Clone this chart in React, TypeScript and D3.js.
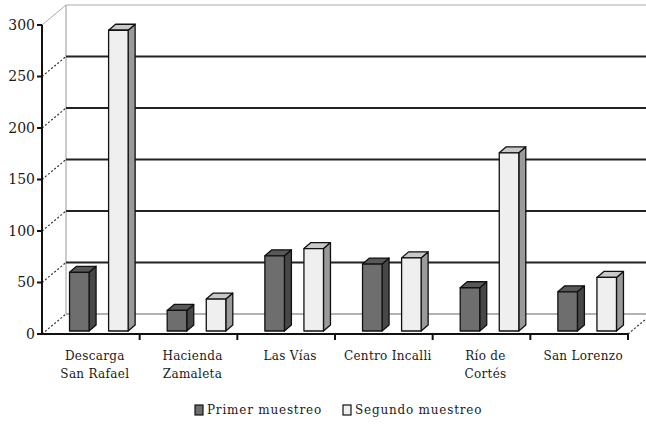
import React from "react";
import * as d3 from "d3";

const categories = [
  ["Descarga", "San Rafael"],
  ["Hacienda", "Zamaleta"],
  ["Las Vías"],
  ["Centro Incalli"],
  ["Río de", "Cortés"],
  ["San Lorenzo"],
];
const primer = [57, 20, 73, 65, 42, 38];
const segundo = [292, 31, 80, 71, 173, 52];
const seriesNames = ["Primer muestreo", "Segundo muestreo"];
const yTicks = [0, 50, 100, 150, 200, 250, 300];

const W = 646;
const H = 429;
const DX = 24;
const DY = -20;
const BDX = 7;
const BDY = -6;

const colors = [
  { front: "#6e6e6e", side: "#474747", top: "#585858" },
  { front: "#efefef", side: "#9a9a9a", top: "#c9c9c9" },
];

export default function App() {
  const y = d3.scaleLinear().domain([0, 300]).range([334, 25]);
  const yBar = d3.scaleLinear().domain([0, 300]).range([331, 22]);
  const keys = categories.map((c) => c.join(" "));
  const x = d3.scaleBand().domain(keys).range([42, 628]).padding(0);
  const bw = x.bandwidth();
  const x0 = 42;
  const x1 = 628;
  const font = "'DejaVu Serif', serif";

  const bars: any[] = [];
  keys.forEach((k, i) => {
    [primer, segundo].forEach((s, j) => {
      const bx = (x(k) as number) + 8 + bw * (0.2 + j * 0.4);
      const w = bw * 0.2;
      const top = yBar(s[i]);
      const base = yBar(0);
      const c = colors[j];
      bars.push(
        <g key={`${i}-${j}`} stroke="#111" strokeWidth={1.3} strokeLinejoin="round">
          <polygon
            points={`${bx + w},${top} ${bx + w + BDX},${top + BDY} ${bx + w + BDX},${base + BDY} ${bx + w},${base}`}
            fill={c.side}
          />
          <polygon
            points={`${bx},${top} ${bx + BDX},${top + BDY} ${bx + w + BDX},${top + BDY} ${bx + w},${top}`}
            fill={c.top}
          />
          <rect x={bx} y={top} width={w} height={base - top} fill={c.front} />
        </g>
      );
    });
  });

  return (
    <svg
      width={W}
      height={H}
      style={{ position: "absolute", left: 0, top: 0, background: "#fff" }}
    >
      <line x1={x0 + DX} y1={y(300) + DY} x2={W} y2={y(300) + DY} stroke="#aaa" strokeWidth={1} />
      <line x1={x0 + DX} y1={y(300) + DY} x2={x0 + DX} y2={y(0) + DY} stroke="#aaa" strokeWidth={1.2} />
      <line x1={x0 + DX} y1={y(0) + DY} x2={W} y2={y(0) + DY} stroke="#999" strokeWidth={1.5} />
      <line x1={x0} y1={y(300)} x2={x0 + DX} y2={y(300) + DY} stroke="#aaa" strokeWidth={1} />
      {yTicks.filter((t) => t > 0 && t < 300).map((t) => (
        <line key={t} x1={x0 + DX} y1={y(t) + DY} x2={W} y2={y(t) + DY} stroke="#222" strokeWidth={2} />
      ))}
      {yTicks.filter((t) => t < 300).map((t) => (
        <line
          key={"d" + t}
          x1={x0}
          y1={y(t)}
          x2={x0 + DX}
          y2={y(t) + DY}
          stroke="#333"
          strokeWidth={1.2}
          strokeDasharray="2,2"
        />
      ))}
      <line x1={x1} y1={y(0)} x2={x1 + DX} y2={y(0) + DY} stroke="#333" strokeWidth={1.2} strokeDasharray="2,2" />
      {bars}
      <line x1={x0} y1={y(300)} x2={x0} y2={y(0)} stroke="#111" strokeWidth={2} />
      <line x1={x0} y1={y(0)} x2={x1} y2={y(0)} stroke="#111" strokeWidth={2} />
      {yTicks.map((t) => (
        <g key={"t" + t}>
          <line x1={x0 - 5} y1={y(t)} x2={x0} y2={y(t)} stroke="#111" strokeWidth={2} />
          <text
            x={x0 - 7}
            y={y(t)}
            dy="0.35em"
            textAnchor="end"
            fontFamily={font}
            fontSize={14}
            fill="#1a1a1a"
          >
            {t}
          </text>
        </g>
      ))}
      {keys.map((k, i) => (
        <line
          key={"xt" + i}
          x1={(x(k) as number) + bw}
          y1={y(0)}
          x2={(x(k) as number) + bw}
          y2={y(0) + 6}
          stroke="#111"
          strokeWidth={2}
        />
      ))}
      {categories.map((lines, i) => (
        <text
          key={"c" + i}
          x={(x(keys[i]) as number) + bw / 2 + 4}
          y={360}
          textAnchor="middle"
          fontFamily={font}
          fontSize={12}
          fill="#1a1a1a"
          letterSpacing={0.3}
        >
          {lines.map((l, li) => (
            <tspan key={li} x={(x(keys[i]) as number) + bw / 2 + 4} dy={li === 0 ? 0 : 18}>
              {l}
            </tspan>
          ))}
        </text>
      ))}
      {seriesNames.map((n, j) => {
        const lx = j === 0 ? 195 : 343;
        return (
          <g key={n}>
            <rect x={lx} y={405} width={8} height={10} fill={colors[j].front} stroke="#111" strokeWidth={1.2} />
            <text x={lx + 12} y={414} fontFamily={font} fontSize={12} fill="#1a1a1a" letterSpacing={0.8}>
              {n}
            </text>
          </g>
        );
      })}
    </svg>
  );
}
